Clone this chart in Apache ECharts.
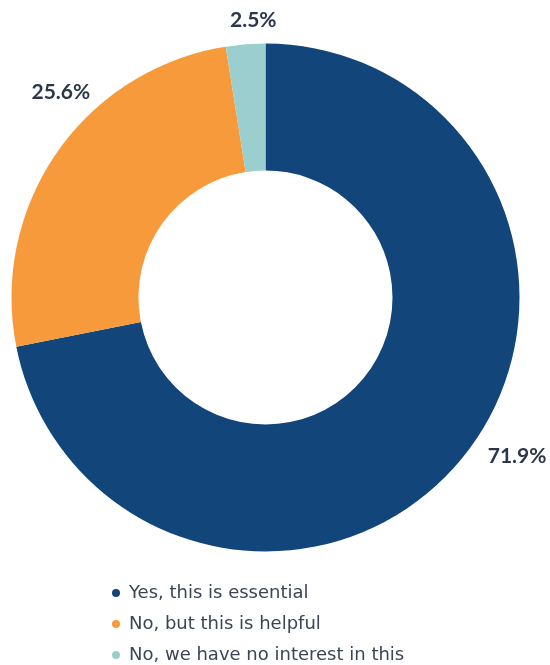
<!DOCTYPE html>
<html>
<head>
<meta charset="utf-8">
<script src="https://cdn.jsdelivr.net/npm/echarts@6/dist/echarts.min.js"></script>
<style>
  html, body { margin: 0; padding: 0; background: #ffffff; }
  #chart { width: 550px; height: 665px; }
</style>
</head>
<body>
<div id="chart"></div>
<script>
// Survey answers and their shares (percent)
const categories = [
  'Yes, this is essential',
  'No, but this is helpful',
  'No, we have no interest in this'
];
const shares = [71.9, 25.6, 2.5];
const sliceColors = ['#12457a', '#f79a3b', '#9bcfcf'];

// Small nudges for the outside value labels, per slice
const labelNudges = [[21, -3], [38, -60], [36, -24]];

const chart = echarts.init(document.getElementById('chart'), null, { renderer: 'canvas' });

chart.setOption({
  animation: false,
  color: sliceColors,
  legend: {
    orient: 'vertical',
    left: 112,
    top: 584,
    padding: 0,
    icon: 'circle',
    itemWidth: 8,
    itemHeight: 8,
    itemGap: 13,
    textStyle: {
      fontFamily: 'DejaVu Sans',
      fontSize: 18,
      padding: [0, 0, 0, 4],
      color: '#3a4556'
    },
    data: categories
  },
  series: [{
    type: 'pie',
    center: [265.5, 297.5],
    radius: [127, 254],
    startAngle: 90,
    clockwise: true,
    avoidLabelOverlap: false,
    label: {
      show: true,
      position: 'outside',
      formatter: p => p.value.toFixed(1) + '%',
      fontFamily: 'Lato',
      fontWeight: 'bold',
      fontSize: 21,
      color: '#2b3648'
    },
    labelLine: { show: false, length: 0, length2: 0 },
    labelLayout: p => ({ dx: labelNudges[p.dataIndex][0], dy: labelNudges[p.dataIndex][1] }),
    emphasis: { disabled: true },
    data: categories.map((name, i) => ({ name, value: shares[i] }))
  }]
});
</script>
</body>
</html>
